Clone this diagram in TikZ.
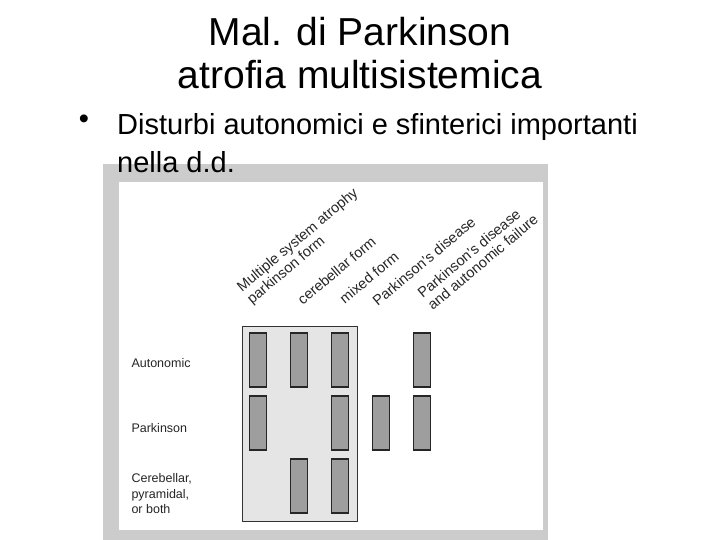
\documentclass[tikz,border=0pt]{standalone}
\usepackage{fontspec}
\setmainfont{Liberation Sans}
\begin{document}
\begin{tikzpicture}[x=1pt,y=-1pt,
  bar/.style={draw=black!85,line width=1.3pt,fill=black!38},
  rowlab/.style={anchor=west,font=\fontsize{12.5}{15.5}\selectfont,align=left,text=black!85},
  collab/.style={anchor=south west,rotate=40,font=\fontsize{14.5}{15.5}\selectfont,align=left,inner sep=0pt,text=black!85}]
\useasboundingbox (0,0) rectangle (720,540);
\fill[black!20] (103,164) rectangle (548,540);
\fill[white] (119,182) rectangle (543,530);
\draw[black!80,line width=1pt,fill=black!10] (242,326) rectangle (357,521);
\foreach \c/\r in {1/1,1/2,2/1,2/3,3/1,3/2,3/3,4/2,5/1,5/2}{
  \pgfmathsetmacro\xx{258+41*(\c-1)}
  \pgfmathsetmacro\yy{333+63*(\r-1)}
  \draw[bar] (\xx-8.5,\yy) rectangle (\xx+8.5,\yy+54);
}
\node (t1) at (360,32) {\fontsize{39}{44}\selectfont Mal. di Parkinson};
\node (t2) at (360,75) {\fontsize{39}{44}\selectfont atrofia multisistemica};
\node (b0) at (84,122) {\fontsize{29}{32}\selectfont •};
\node[anchor=base west,inner sep=0pt] (b1) at (117,135) {\fontsize{29}{32}\selectfont Disturbi autonomici e sfinterici importanti};
\node[anchor=base west,inner sep=0pt] (b2) at (117,173) {\fontsize{29}{32}\selectfont nella d.d.};
\node[rowlab] (r1) at (128,363) {Autonomic};
\node[rowlab] (r2) at (128,428) {Parkinson};
\node[rowlab] (r3) at (128,494) {Cerebellar,\\pyramidal,\\or both};
\node[collab] (c1) at (254,307) {Multiple system atrophy\\parkinson form};
\node[collab] (c2) at (303,306) {cerebellar form};
\node[collab] (c3) at (345,305) {mixed form};
\node[collab] (c4) at (378,307) {Parkinson's disease};
\node[collab] (c5) at (433,311) {Parkinson's disease\\and autonomic failure};
\end{tikzpicture}
\end{document}
